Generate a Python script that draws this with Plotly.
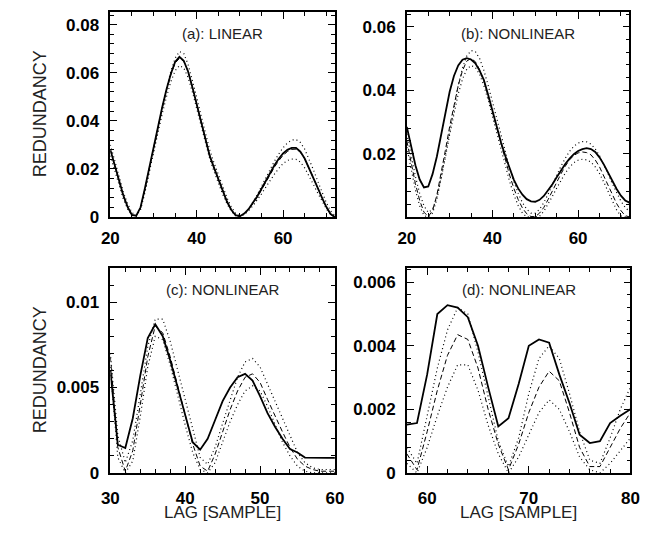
import plotly.graph_objects as go

# The browser page is 663x538 and the html body keeps its default 8px margin,
# so the figure itself is 16px smaller; positions below are page pixels.
PAGE_W, PAGE_H = 663, 538
OFF = 8
W, H = PAGE_W - 2 * OFF, PAGE_H - 2 * OFF

# ---------------- data ----------------
lags_ab = list(range(20, 73))
lags_c = list(range(30, 61))
lags_d = list(range(58, 81))

a_solid = [0.0280, 0.0215, 0.0150, 0.0090, 0.0042, 0.0008, 0.0005, 0.0040, 0.0118, 0.0205,
           0.0290, 0.0375, 0.0455, 0.0530, 0.0595, 0.0645, 0.0666, 0.0650, 0.0605, 0.0540,
           0.0468, 0.0392, 0.0318, 0.0255, 0.0205, 0.0155, 0.0108, 0.0064, 0.0030, 0.0007,
           0.0003, 0.0014, 0.0032, 0.0056, 0.0085, 0.0117, 0.0151, 0.0184, 0.0215, 0.0242,
           0.0264, 0.0279, 0.0287, 0.0287, 0.0272, 0.0243, 0.0205, 0.0163, 0.0122, 0.0080,
           0.0042, 0.0012, 0.0000]
a_dash = [0.0276, 0.0211, 0.0147, 0.0088, 0.0040, 0.0007, 0.0004, 0.0038, 0.0116, 0.0202,
          0.0287, 0.0372, 0.0452, 0.0527, 0.0591, 0.0640, 0.0660, 0.0648, 0.0606, 0.0542,
          0.0470, 0.0394, 0.0320, 0.0257, 0.0206, 0.0156, 0.0108, 0.0064, 0.0029, 0.0006,
          0.0002, 0.0012, 0.0030, 0.0053, 0.0081, 0.0112, 0.0145, 0.0177, 0.0207, 0.0234,
          0.0256, 0.0272, 0.0281, 0.0282, 0.0269, 0.0242, 0.0205, 0.0163, 0.0121, 0.0079,
          0.0040, 0.0010, 0.0000]
a_dot_hi = [0.0300, 0.0235, 0.0168, 0.0105, 0.0055, 0.0018, 0.0005, 0.0030, 0.0100, 0.0190,
            0.0280, 0.0370, 0.0455, 0.0535, 0.0605, 0.0660, 0.0688, 0.0680, 0.0635, 0.0570,
            0.0498, 0.0422, 0.0348, 0.0280, 0.0225, 0.0175, 0.0125, 0.0080, 0.0042, 0.0015,
            0.0005, 0.0012, 0.0032, 0.0060, 0.0092, 0.0127, 0.0163, 0.0198, 0.0232, 0.0262,
            0.0288, 0.0308, 0.0320, 0.0322, 0.0310, 0.0282, 0.0242, 0.0197, 0.0150, 0.0103,
            0.0060, 0.0025, 0.0005]
a_dot_lo = [0.0255, 0.0192, 0.0130, 0.0075, 0.0033, 0.0006, 0.0003, 0.0035, 0.0105, 0.0188,
            0.0270, 0.0352, 0.0428, 0.0500, 0.0562, 0.0608, 0.0630, 0.0620, 0.0580, 0.0520,
            0.0450, 0.0378, 0.0305, 0.0243, 0.0190, 0.0140, 0.0095, 0.0055, 0.0024, 0.0005,
            0.0002, 0.0010, 0.0025, 0.0046, 0.0070, 0.0096, 0.0124, 0.0152, 0.0178, 0.0202,
            0.0222, 0.0235, 0.0241, 0.0240, 0.0228, 0.0204, 0.0172, 0.0136, 0.0100, 0.0065,
            0.0034, 0.0010, 0.0000]

b_solid = [0.0284, 0.0222, 0.0163, 0.0118, 0.0093, 0.0096, 0.0135, 0.0190, 0.0260, 0.0330,
           0.0395, 0.0445, 0.0478, 0.0496, 0.0501, 0.0497, 0.0485, 0.0462, 0.0432, 0.0385,
           0.0333, 0.0282, 0.0235, 0.0192, 0.0152, 0.0117, 0.0090, 0.0070, 0.0056, 0.0049,
           0.0048, 0.0054, 0.0066, 0.0083, 0.0103, 0.0125, 0.0147, 0.0167, 0.0184, 0.0198,
           0.0208, 0.0214, 0.0217, 0.0214, 0.0205, 0.0188, 0.0166, 0.0140, 0.0113, 0.0088,
           0.0067, 0.0052, 0.0045]
b_dash = [0.0240, 0.0170, 0.0105, 0.0052, 0.0015, 0.0001, 0.0020, 0.0068, 0.0135, 0.0210,
          0.0285, 0.0355, 0.0415, 0.0462, 0.0492, 0.0500, 0.0490, 0.0465, 0.0428, 0.0382,
          0.0332, 0.0280, 0.0228, 0.0178, 0.0132, 0.0090, 0.0055, 0.0028, 0.0010, 0.0001,
          0.0001, 0.0012, 0.0030, 0.0055, 0.0083, 0.0110, 0.0136, 0.0160, 0.0180, 0.0194,
          0.0202, 0.0205, 0.0203, 0.0196, 0.0180, 0.0158, 0.0130, 0.0100, 0.0070, 0.0042,
          0.0020, 0.0004, 0.0000]
b_dot_hi = [0.0262, 0.0192, 0.0128, 0.0074, 0.0035, 0.0014, 0.0024, 0.0062, 0.0122, 0.0195,
            0.0272, 0.0347, 0.0415, 0.0470, 0.0508, 0.0525, 0.0522, 0.0500, 0.0462, 0.0415,
            0.0362, 0.0308, 0.0255, 0.0203, 0.0155, 0.0112, 0.0075, 0.0045, 0.0024, 0.0012,
            0.0012, 0.0024, 0.0045, 0.0072, 0.0102, 0.0132, 0.0160, 0.0185, 0.0207, 0.0223,
            0.0233, 0.0238, 0.0237, 0.0230, 0.0215, 0.0193, 0.0166, 0.0136, 0.0105, 0.0076,
            0.0050, 0.0030, 0.0017]
b_dot_lo = [0.0220, 0.0150, 0.0085, 0.0035, 0.0004, 0.0000, 0.0012, 0.0055, 0.0118, 0.0188,
            0.0260, 0.0328, 0.0388, 0.0435, 0.0466, 0.0478, 0.0472, 0.0450, 0.0414, 0.0368,
            0.0318, 0.0265, 0.0212, 0.0160, 0.0112, 0.0070, 0.0036, 0.0012, 0.0000, 0.0000,
            0.0000, 0.0002, 0.0018, 0.0040, 0.0065, 0.0091, 0.0116, 0.0138, 0.0157, 0.0171,
            0.0179, 0.0182, 0.0180, 0.0173, 0.0158, 0.0137, 0.0110, 0.0080, 0.0050, 0.0022,
            0.0003, 0.0000, 0.0000]

c_solid = [0.0060, 0.00165, 0.00146, 0.0032, 0.0057, 0.0079, 0.0087, 0.0080, 0.0066, 0.0050,
           0.0034, 0.0018, 0.00136, 0.0020, 0.0031, 0.0042, 0.0050, 0.0056, 0.0058, 0.0054,
           0.0045, 0.0035, 0.0027, 0.0020, 0.0014, 0.0012, 0.0009, 0.00088, 0.00088, 0.00088,
           0.00088]
c_dash = [0.0068, 0.0015, 0.0001, 0.0013, 0.0040, 0.0068, 0.0086, 0.0082, 0.0068, 0.0051,
          0.0034, 0.0017, 0.0004, 0.0001, 0.0011, 0.0024, 0.0037, 0.0048, 0.0056, 0.0058,
          0.0053, 0.0043, 0.0033, 0.0024, 0.0015, 0.0008, 0.0004, 0.0002, 0.0001, 0.0001,
          0.0001]
c_dot_hi = [0.0070, 0.0022, 0.0006, 0.0019, 0.0046, 0.0074, 0.0090, 0.0090, 0.0077, 0.0060,
            0.0043, 0.0025, 0.0009, 0.0005, 0.0015, 0.0029, 0.0043, 0.0056, 0.0065, 0.0067,
            0.0062, 0.0052, 0.0041, 0.0031, 0.0021, 0.0012, 0.0006, 0.0003, 0.0002, 0.0002,
            0.0002]
c_dot_lo = [0.0062, 0.0009, 0.0000, 0.0007, 0.0033, 0.0062, 0.0080, 0.0078, 0.0063, 0.0045,
            0.0028, 0.0012, 0.0002, 0.0000, 0.0006, 0.0018, 0.0030, 0.0040, 0.0048, 0.0051,
            0.0048, 0.0039, 0.0028, 0.0018, 0.0010, 0.0004, 0.0001, 0.0000, 0.0000, 0.0000,
            0.0000]

d_solid = [0.00152, 0.00157, 0.0031, 0.0050, 0.00528, 0.0052, 0.0049, 0.0040, 0.0027, 0.00146,
           0.00172, 0.0028, 0.0040, 0.0042, 0.0041, 0.0031, 0.0022, 0.0012, 0.00094, 0.0010,
           0.00157, 0.0018, 0.0020]
d_dash = [0.0006, 0.0001, 0.0013, 0.0026, 0.0037, 0.00435, 0.0042, 0.0033, 0.0020, 0.0009,
          0.0001, 0.0009, 0.0019, 0.0027, 0.0032, 0.0029, 0.0019, 0.0008, 0.0002, 0.0002,
          0.0008, 0.0014, 0.0019]
d_dot_hi = [0.0008, 0.0003, 0.0018, 0.0033, 0.0045, 0.0052, 0.0050, 0.0038, 0.0024, 0.0010,
            0.0002, 0.0011, 0.0025, 0.0036, 0.0040, 0.0036, 0.0025, 0.0013, 0.0004, 0.0003,
            0.0011, 0.0020, 0.0027]
d_dot_lo = [0.0003, 0.0000, 0.0008, 0.0018, 0.0027, 0.0034, 0.0034, 0.0026, 0.0015, 0.0006,
            0.0000, 0.0005, 0.0012, 0.0019, 0.0023, 0.0020, 0.0013, 0.0005, 0.0001, 0.0000,
            0.0003, 0.0007, 0.0011]

panel_titles = ["(a): LINEAR", "(b): NONLINEAR", "(c): NONLINEAR", "(d): NONLINEAR"]
y_ticks = {
    "a": [0, 0.02, 0.04, 0.06, 0.08],
    "b": [0.02, 0.04, 0.06],
    "c": [0, 0.005, 0.01],
    "d": [0, 0.002, 0.004, 0.006],
}
y_ticklabels = {
    "a": ["0", "0.02", "0.04", "0.06", "0.08"],
    "b": ["0.02", "0.04", "0.06"],
    "c": ["0", "0.005", "0.01"],
    "d": ["0", "0.002", "0.004", "0.006"],
}
x_ticks = {"a": [20, 40, 60], "b": [20, 40, 60], "c": [30, 40, 50, 60], "d": [60, 70, 80]}
x_title = "LAG [SAMPLE]"
y_title = "REDUNDANCY"

# ---------------- layout geometry (page pixels) ----------------
def px_x(p):
    return (p - OFF) / W

def px_y(p):
    return 1 - (p - OFF) / H

panels = {
    # key: (left, right, top, bottom, xrange, yrange, xminor, yminor)
    "a": (104, 335, 12, 221, [20, 72], [0, 0.0853], 5, 0.004),
    "b": (409, 638, 12, 221, [20, 72], [0, 0.0647], 5, 0.004),
    "c": (104, 335, 273, 482, [30, 60], [0, 0.0120], 2, 0.001),
    "d": (409, 639, 273, 482, [58, 80], [0, 0.00645], 2, 0.0004),
}
series = {
    "a": (lags_ab, a_solid, a_dash, a_dot_hi, a_dot_lo),
    "b": (lags_ab, b_solid, b_dash, b_dot_hi, b_dot_lo),
    "c": (lags_c, c_solid, c_dash, c_dot_hi, c_dot_lo),
    "d": (lags_d, d_solid, d_dash, d_dot_hi, d_dot_lo),
}

fig = go.Figure()
FONT = "Liberation Sans, Arial, sans-serif"
tickfont = dict(family=FONT, size=17, color="black", weight="bold")

layout = {}
annotations = []
for i, key in enumerate(["a", "b", "c", "d"]):
    l, r, t, b, xr, yr, xmin, ymin = panels[key]
    n = "" if i == 0 else str(i + 1)
    xa, ya = "x" + n, "y" + n
    lags, s, ds, hi, lo = series[key]
    for vals, dash, width in [(hi, "1px,3px", 1.2), (lo, "1px,3px", 1.2),
                              (ds, "5px,3px", 1.0), (s, "solid", 1.8)]:
        fig.add_trace(go.Scatter(x=lags, y=vals, mode="lines", xaxis=xa, yaxis=ya,
                                 line=dict(color="black", width=width, dash=dash),
                                 showlegend=False, hoverinfo="skip", cliponaxis=True))
    common = dict(showline=True, linecolor="black", linewidth=1.5, mirror="allticks",
                  ticks="inside", ticklen=7, tickwidth=1.2, tickcolor="black",
                  showgrid=False, zeroline=False, tickfont=tickfont)
    layout["xaxis" + n] = dict(common, domain=[px_x(l), px_x(r)], range=xr, anchor=ya,
                               tickmode="array", tickvals=x_ticks[key],
                               ticktext=[str(v) for v in x_ticks[key]],
                               minor=dict(dtick=xmin, tick0=0, ticks="inside", ticklen=4,
                                          tickwidth=1, tickcolor="black", showgrid=False),
                               ticklabelstandoff=9 if key in "cd" else 5)
    layout["yaxis" + n] = dict(common, domain=[px_y(b), px_y(t)], range=yr, anchor=xa,
                               tickmode="array", tickvals=y_ticks[key],
                               ticktext=y_ticklabels[key],
                               minor=dict(dtick=ymin, tick0=0, ticks="inside", ticklen=4,
                                          tickwidth=1, tickcolor="black", showgrid=False),
                               ticklabelstandoff=6)
    annotations.append(dict(text=panel_titles[i], x=px_x((l + r) / 2), y=px_y(t + 22),
                            xref="paper", yref="paper", showarrow=False,
                            xanchor="center", yanchor="middle",
                            font=dict(family=FONT, size=15, color="#222")))

for yc in [116, 377]:
    annotations.append(dict(text=y_title, x=px_x(32), y=px_y(yc), xref="paper", yref="paper",
                            showarrow=False, textangle=-90, xanchor="center", yanchor="middle",
                            font=dict(family=FONT, size=18, color="#222")))
for xc in [219.5, 524]:
    annotations.append(dict(text=x_title, x=px_x(xc), y=px_y(522), xref="paper", yref="paper",
                            showarrow=False, xanchor="center", yanchor="middle",
                            font=dict(family=FONT, size=17, color="#222")))

fig.update_layout(**layout)
fig.update_layout(width=W, height=H, margin=dict(l=0, r=0, t=0, b=0),
                  paper_bgcolor="white", plot_bgcolor="white",
                  annotations=annotations, showlegend=False)

fig.write_html("out.html")
